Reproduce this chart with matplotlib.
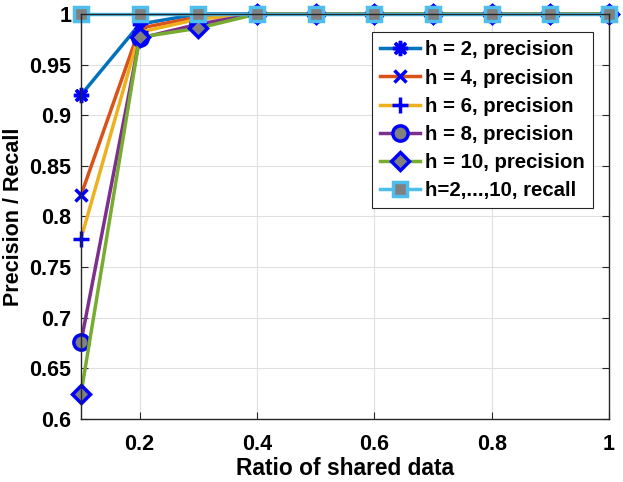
import matplotlib
matplotlib.use("Agg")
import matplotlib.pyplot as plt
import numpy as np

ratio = [0.1, 0.2, 0.3, 0.4, 0.5, 0.6, 0.7, 0.8, 0.9, 1.0]
prec_h2 = [0.920, 0.990, 1.0, 1.0, 1.0, 1.0, 1.0, 1.0, 1.0, 1.0]
prec_h4 = [0.821, 0.986, 0.997, 1.0, 1.0, 1.0, 1.0, 1.0, 1.0, 1.0]
prec_h6 = [0.778, 0.982, 0.995, 1.0, 1.0, 1.0, 1.0, 1.0, 1.0, 1.0]
prec_h8 = [0.676, 0.976, 0.990, 1.0, 1.0, 1.0, 1.0, 1.0, 1.0, 1.0]
prec_h10 = [0.625, 0.977, 0.986, 1.0, 1.0, 1.0, 1.0, 1.0, 1.0, 1.0]
recall = [1.0, 1.0, 1.0, 1.0, 1.0, 1.0, 1.0, 1.0, 1.0, 1.0]
labels = ["h = 2, precision", "h = 4, precision", "h = 6, precision",
          "h = 8, precision", "h = 10, precision", "h=2,...,10, recall"]

plt.rcParams['font.family'] = ['Liberation Sans', 'DejaVu Sans']
plt.rcParams['font.weight'] = 'bold'

fig = plt.figure(figsize=(6.23, 4.82), dpi=100)
ax = fig.add_axes([81/623, 1-419/482, (609-81)/623, (419-14)/482])

cols = [(0, 0.447, 0.741), (0.85, 0.325, 0.098), (0.929, 0.694, 0.125),
        (0.494, 0.184, 0.556), (0.466, 0.674, 0.188), (0.301, 0.745, 0.933)]
blue = (0, 0, 1)
gray = (0.5, 0.5, 0.5)
lw = 2.5

ax.plot(ratio, prec_h2, color=cols[0], lw=lw, marker=(8, 2, 0), ms=11,
        mec=blue, mfc=blue, mew=2.5, label=labels[0], clip_on=False)
ax.plot(ratio, prec_h4, color=cols[1], lw=lw, marker='x', ms=9,
        mec=blue, mew=2.5, label=labels[1], clip_on=False)
ax.plot(ratio, prec_h6, color=cols[2], lw=lw, marker='+', ms=11,
        mec=blue, mew=2.5, label=labels[2], clip_on=False)
ax.plot(ratio, prec_h8, color=cols[3], lw=lw, marker='o', ms=11,
        mec=blue, mfc=gray, mew=2.5, label=labels[3], clip_on=False)
ax.plot(ratio, prec_h10, color=cols[4], lw=lw, marker='D', ms=9,
        mec=blue, mfc=gray, mew=2.5, label=labels[4], clip_on=False)
ax.plot(ratio, recall, color=cols[5], lw=lw, marker='s', ms=10,
        mec=cols[5], mfc=gray, mew=2.5, label=labels[5], clip_on=False)

ax.set_xlim(0.1, 1.0)
ax.set_ylim(0.6, 1.0)
ax.set_xticks([0.2, 0.4, 0.6, 0.8, 1.0])
ax.set_xticklabels(["0.2", "0.4", "0.6", "0.8", "1"])
ax.set_yticks(np.arange(0.6, 1.001, 0.05))
ax.set_yticklabels(["0.6", "0.65", "0.7", "0.75", "0.8", "0.85", "0.9", "0.95", "1"])
ax.grid(True, color=(0.88, 0.88, 0.88), lw=0.8)
ax.set_axisbelow(True)
ax.tick_params(direction='in', top=True, right=True, labelsize=15.5, length=5,
               color=(0.15, 0.15, 0.15))
ax.tick_params(axis='x', pad=11)
ax.tick_params(axis='y', pad=7)
for s in ax.spines.values():
    s.set_color((0.15, 0.15, 0.15))
    s.set_linewidth(1)
ax.set_xlabel("Ratio of shared data", fontsize=16.4, fontweight='bold', labelpad=1)
ax.set_ylabel("Precision / Recall", fontsize=15.5, fontweight='bold', labelpad=4)

leg = ax.legend(loc='upper right', bbox_to_anchor=(0.97, 0.955), fontsize=14.7,
                frameon=True, fancybox=False, edgecolor=(0.15, 0.15, 0.15),
                framealpha=1, handlelength=1.95, handletextpad=0.25,
                labelspacing=0.45, borderpad=0.4, borderaxespad=0)
leg.get_frame().set_linewidth(0.8)

fig.savefig("out.png", dpi=100)
